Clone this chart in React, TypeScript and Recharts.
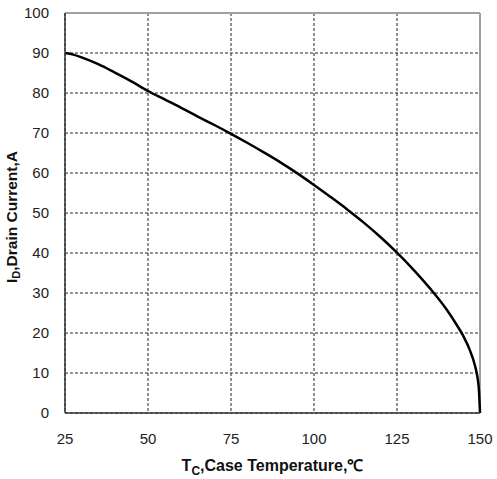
import { CartesianGrid, Line, LineChart, ReferenceLine, XAxis, YAxis } from "recharts";

const caseTemp = [
  25, 27.5, 30, 35, 40, 45, 50, 55, 60, 65, 70, 75, 80, 85, 90, 95, 100, 105, 110, 115, 120, 125, 130, 135, 140,
  143, 145, 147, 148.5, 149.3, 149.7, 150,
];
const drainCurrent = [
  90, 89.6, 88.9, 87.2, 85.1, 82.9, 80.5, 78.4, 76.3, 74.1, 72.0, 69.8, 67.5, 65.1, 62.6, 59.9, 57.0, 54.0, 50.9,
  47.6, 44.0, 40.1, 35.8, 31.1, 25.8, 22.0, 19.2, 15.6, 11.8, 8.6, 5.5, 0,
];
const xTicks = [25, 50, 75, 100, 125, 150];
const yTicks = [0, 10, 20, 30, 40, 50, 60, 70, 80, 90, 100];

const data = caseTemp.map((t, i) => ({ t, id: drainCurrent[i] }));

const FONT = '"Liberation Sans", Arial, sans-serif';

type LabelProps = {
  viewBox?: { x: number; y: number; width: number; height: number };
};

function XLabel({ viewBox }: LabelProps) {
  if (!viewBox) return null;
  const cx = viewBox.x + viewBox.width / 2;
  return (
    <text x={cx} y={471} textAnchor="middle" fontFamily={FONT} fontWeight="bold" fontSize={16} fill="#111">
      T<tspan fontSize={12} dy={4}>C</tspan>
      <tspan dy={-4}>,Case Temperature,℃</tspan>
    </text>
  );
}

function YLabel({ viewBox }: LabelProps) {
  if (!viewBox) return null;
  const cy = viewBox.y + viewBox.height / 2 + 4;
  const x = 17;
  return (
    <text
      x={x}
      y={cy}
      transform={`rotate(-90 ${x} ${cy})`}
      textAnchor="middle"
      fontFamily={FONT}
      fontWeight="bold"
      fontSize={15.5}
      fill="#111"
    >
      I<tspan fontSize={11} dy={3}>D</tspan>
      <tspan dy={-3}>,Drain Current,A</tspan>
    </text>
  );
}

export default function App() {
  return (
    <div style={{ position: "absolute", left: 0, top: 0, width: 497, height: 479, background: "#fff" }}>
      <LineChart width={497} height={479} data={data} margin={{ top: 13, right: 17, bottom: 0, left: 0 }}>
        <CartesianGrid stroke="#222" strokeDasharray="3 2" strokeWidth={1} />
        <XAxis
          dataKey="t"
          type="number"
          domain={[25, 150]}
          ticks={xTicks}
          height={66}
          tickLine={false}
          tickSize={6}
          tickMargin={14}
          axisLine={{ stroke: "#333", strokeWidth: 1.5 }}
          tick={{ fill: "#222", fontSize: 15, fontFamily: FONT }}
          label={<XLabel />}
        />
        <YAxis
          type="number"
          domain={[0, 100]}
          ticks={yTicks}
          width={65}
          tickLine={false}
          tickSize={6}
          tickMargin={10}
          axisLine={{ stroke: "#333", strokeWidth: 1.5 }}
          tick={{ fill: "#222", fontSize: 15, fontFamily: FONT }}
          label={<YLabel />}
        />
        <ReferenceLine y={100} stroke="#a0a0a0" strokeWidth={2} />
        <ReferenceLine x={150} stroke="#a0a0a0" strokeWidth={2} />
        <Line
          dataKey="id"
          type="monotone"
          stroke="#000"
          strokeWidth={2.5}
          dot={false}
          isAnimationActive={false}
        />
      </LineChart>
    </div>
  );
}
